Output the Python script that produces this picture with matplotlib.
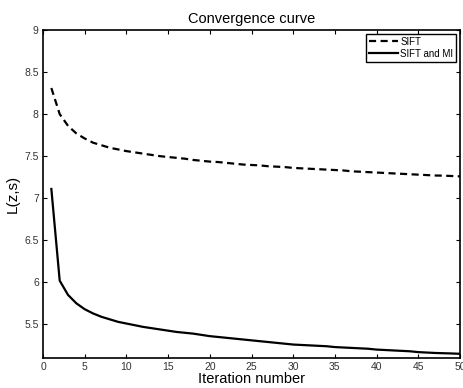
"""Convergence curve of L(z,s) over iterations."""

import matplotlib

matplotlib.use("Agg")
import matplotlib.pyplot as plt
import numpy as np


iterations = np.arange(1, 51)

sift_values = [
    8.31, 8.00, 7.86, 7.77, 7.71, 7.66, 7.63, 7.60, 7.58, 7.56,
    7.545, 7.53, 7.515, 7.50, 7.49, 7.48, 7.47, 7.455, 7.445, 7.435,
    7.43, 7.42, 7.41, 7.40, 7.395, 7.39, 7.38, 7.375, 7.37, 7.36,
    7.355, 7.35, 7.345, 7.34, 7.335, 7.33, 7.32, 7.315, 7.31, 7.305,
    7.30, 7.295, 7.29, 7.285, 7.28, 7.275, 7.27, 7.268, 7.264, 7.26,
]

sift_mi_values = [
    7.11, 6.02, 5.85, 5.75, 5.68, 5.63, 5.59, 5.56, 5.53, 5.51,
    5.49, 5.47, 5.455, 5.44, 5.425, 5.41, 5.40, 5.39, 5.375, 5.36,
    5.35, 5.34, 5.33, 5.32, 5.31, 5.30, 5.29, 5.28, 5.27, 5.26,
    5.255, 5.25, 5.245, 5.24, 5.23, 5.225, 5.22, 5.215, 5.21, 5.20,
    5.195, 5.19, 5.185, 5.18, 5.17, 5.165, 5.16, 5.157, 5.154, 5.15,
]

x_ticks = list(range(0, 51, 5))
y_ticks = [5.5, 6, 6.5, 7, 7.5, 8, 8.5, 9]
y_tick_labels = ["5.5", "6", "6.5", "7", "7.5", "8", "8.5", "9"]


plt.rcParams["font.family"] = ["Liberation Sans", "DejaVu Sans"]

fig = plt.figure(figsize=(4.63, 3.88), dpi=100)
ax = fig.add_axes([0.0929, 0.0773, 0.9006, 0.8454])

ax.plot(
    iterations,
    sift_values,
    color="black",
    linestyle=(0, (3.2, 2.0)),
    linewidth=1.6,
    label="SIFT",
)

ax.plot(
    iterations,
    sift_mi_values,
    color="black",
    linestyle="-",
    linewidth=1.6,
    label="SIFT and MI",
)

ax.set_xlim(0, 50)
ax.set_ylim(5.1, 9)
ax.set_xticks(x_ticks)
ax.set_yticks(y_ticks)
ax.set_yticklabels(y_tick_labels)

ax.tick_params(
    direction="in",
    top=True,
    right=True,
    length=3,
    width=0.8,
    labelsize=7.5,
    labelcolor="#333333",
    pad=3,
)

for spine in ax.spines.values():
    spine.set_linewidth(1.2)

ax.set_title("Convergence curve", fontsize=10.5, pad=5)
ax.set_xlabel("Iteration number", fontsize=10.5, labelpad=0)
ax.set_ylabel("L(z,s)", fontsize=11, labelpad=3)

legend = ax.legend(
    loc="upper right",
    fontsize=7,
    fancybox=False,
    framealpha=1,
    edgecolor="black",
    handlelength=3.0,
    handletextpad=0.2,
    borderpad=0.3,
    labelspacing=0.2,
    borderaxespad=0.4,
)
legend.get_frame().set_linewidth(1.0)

fig.savefig("out.png", dpi=100)
